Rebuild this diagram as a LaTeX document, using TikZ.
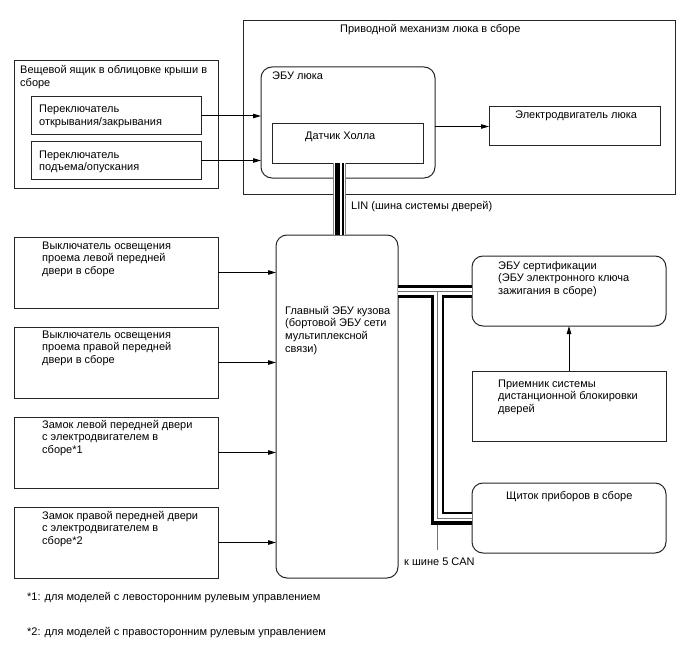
\documentclass[tikz,border=0pt]{standalone}
\usepackage{fontspec}
\setmainfont{Liberation Sans}
\usetikzlibrary{arrows.meta}
\newcommand\mlines[1]{\begin{tabular}[t]{@{}l@{}}#1\end{tabular}}
\begin{document}
\begin{tikzpicture}[x=1pt,y=-1pt,
 box/.style={draw=black!85, line width=1pt, inner sep=0pt, outer sep=0pt, anchor=north west},
 rbox/.style={box, rounded corners=11pt},
 txt/.style={inner sep=0pt, anchor=base west, font=\fontsize{11}{12.8}\selectfont},
 arr/.style={draw=black, line width=1pt, -{Triangle[length=8pt,width=4.5pt]}},
 buswire/.style={black!55, line width=0.8pt},
]
\useasboundingbox (0,0) rectangle (688,658);
\fill[white] (0,0) rectangle (688,658);

% boxes
\node[box, minimum width=432pt, minimum height=173pt] (outer) at (243,21) {};
\node[box, minimum width=204pt, minimum height=127pt] (roof) at (14,61) {};
\node[box, minimum width=170pt, minimum height=38pt] (sw1) at (31,97) {};
\node[box, minimum width=170pt, minimum height=37pt] (sw2) at (31,142) {};
\node[rbox, minimum width=174pt, minimum height=111pt] (ecu) at (261,67) {};
\node[box, minimum width=151pt, minimum height=39pt] (hall) at (272,124) {};
\node[box, minimum width=171pt, minimum height=39pt] (motor) at (489,107) {};
\node[rbox, minimum width=122pt, minimum height=343pt] (main) at (276,235) {};
\node[box, minimum width=204pt, minimum height=71pt] (ba) at (14,237) {};
\node[box, minimum width=204pt, minimum height=71pt] (bb) at (14,327) {};
\node[box, minimum width=204pt, minimum height=71pt] (bc) at (14,417) {};
\node[box, minimum width=204pt, minimum height=71pt] (bd) at (14,507) {};
\node[rbox, minimum width=194pt, minimum height=70pt] (cert) at (472,256) {};
\node[box, minimum width=194pt, minimum height=70pt] (recv) at (472,371) {};
\node[rbox, minimum width=194pt, minimum height=70pt] (inst) at (472,483) {};

% arrows
\draw[arr] (sw1.east) -- (sw1.east -| ecu.west);
\draw[arr] (sw2.east) -- (sw2.east -| ecu.west);
\draw[arr] (ecu.east |- motor.west) -- (motor.west);
\draw[arr] (ba.east) -- (ba.east -| main.west);
\draw[arr] (bb.east) -- (bb.east -| main.west);
\draw[arr] (bc.east) -- (bc.east -| main.west);
\draw[arr] (bd.east) -- (bd.east -| main.west);
\draw[arr] (recv.north) -- (cert.south);

% LIN bus
\coordinate (linT) at ([xshift=-8.5pt]hall.south);
\coordinate (linB) at (linT |- main.north);
\draw[black!50, line width=13pt] (linT) -- (linB);
\draw[white, line width=11pt] (linT) -- (linB);
\draw[black, line width=9pt] ([xshift=0.5pt]linT) -- ([xshift=0.5pt]linB);
\draw[white, line width=1.6pt] ([xshift=2.2pt]linT) -- ([xshift=2.2pt]linB);

% CAN bus
\coordinate (canA) at (main.east |- cert.west);
\coordinate (canJ) at ([xshift=39.5pt]canA);
\coordinate (canC) at (canJ |- inst.west);
\coordinate (canE) at ([yshift=-32pt]canC);
\draw[buswire] (canC) -- (canE);
\draw[black, line width=13pt] (canA) -- (cert.west);
\draw[black, line width=13pt, line join=miter] (canJ) -- (canC) -- (inst.west);
\draw[white, line width=7.5pt] ([yshift=-0.5pt]canA) -- ([yshift=-0.5pt]cert.west);
\draw[white, line width=7.5pt, line join=miter] ([xshift=0.5pt]canJ) -- ([xshift=0.5pt,yshift=0.5pt]canC) -- ([yshift=0.5pt]inst.west);
\draw[buswire] (canA) -- (cert.west);
\draw[buswire] (canJ) -- (canC) -- (inst.west);

% texts
\node[txt] (t_outer) at (340,33) {Приводной механизм люка в сборе};
\node[txt] (t_roof) at (20,74) {\mlines{Вещевой ящик в облицовке крыши в\\сборе}};
\node[txt] (t_sw1) at (39,113) {\mlines{Переключатель\\открывания/закрывания}};
\node[txt] (t_sw2) at (39,158) {\mlines{Переключатель\\подъема/опускания}};
\node[txt] (t_ecu) at (272,80) {ЭБУ люка};
\node[txt] (t_hall) at (305,140) {Датчик Холла};
\node[txt] (t_motor) at (515,119) {Электродвигатель люка};
\node[txt] (t_lin) at (351,209) {LIN (шина системы дверей)};
\node[txt] (t_main) at (285,314) {\mlines{Главный ЭБУ кузова\\(бортовой ЭБУ сети\\мультиплексной\\связи)}};
\node[txt] (t_a) at (42,249) {\mlines{Выключатель освещения\\проема левой передней\\двери в сборе}};
\node[txt] (t_b) at (42,338) {\mlines{Выключатель освещения\\проема правой передней\\двери в сборе}};
\node[txt] (t_c) at (42,428) {\mlines{Замок левой передней двери\\с электродвигателем в\\сборе*1}};
\node[txt] (t_d) at (42,519) {\mlines{Замок правой передней двери\\с электродвигателем в\\сборе*2}};
\node[txt] (t_cert) at (498,269) {\mlines{ЭБУ сертификации\\(ЭБУ электронного ключа\\зажигания в сборе)}};
\node[txt] (t_recv) at (498,387) {\mlines{Приемник системы\\дистанционной блокировки\\дверей}};
\node[txt] (t_inst) at (506,499) {Щиток приборов в сборе};
\node[txt] (t_can) at (404,565) {к шине 5 CAN};
\node[txt] (t_f1) at (27,600) {*1: для моделей с левосторонним рулевым управлением};
\node[txt] (t_f2) at (27,635) {*2: для моделей с правосторонним рулевым управлением};
\end{tikzpicture}
\end{document}
